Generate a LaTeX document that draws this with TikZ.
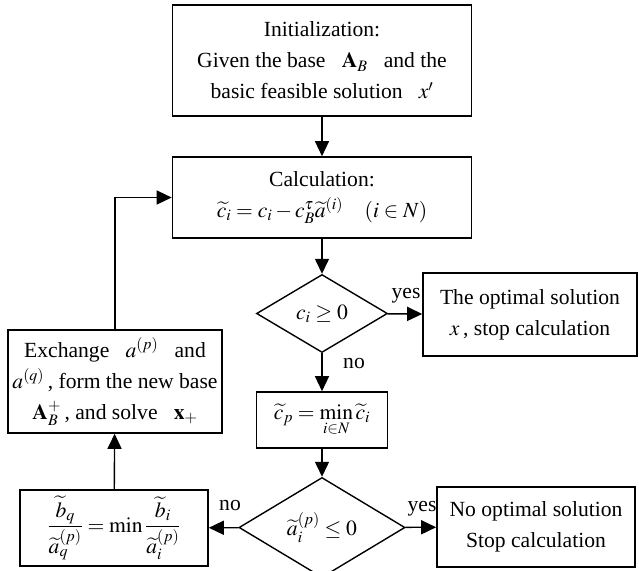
\documentclass[tikz,border=0pt]{standalone}
\usepackage{amsmath}
\usepackage{mathptmx}
\usepackage{fontspec}
\setmainfont{Liberation Serif}
\usetikzlibrary{shapes.geometric,arrows.meta}
\tikzset{
  box/.style={draw,line width=1.6pt,rectangle,inner sep=0pt,align=center,
    font=\fontsize{21.6}{31}\selectfont},
  dia/.style={draw,line width=1.4pt,diamond,inner sep=0pt,align=center,
    font=\fontsize{21.6}{31}\selectfont},
  arr/.style={line width=1.4pt,-{Triangle[length=15pt,width=14pt]}},
  lab/.style={inner sep=0pt,font=\fontsize{21.6}{25}\selectfont}
}
\begin{document}
\begin{tikzpicture}[x=1pt,y=-1pt]
\useasboundingbox (0,0) rectangle (639,570);
\node[box,minimum width=299pt,minimum height=111pt] (init) at (322,60.5)
  {Initialization:\\Given the base \ \ $\mathbf{A}_{B}$ \ \ and the\\basic feasible solution \ \ $x'$};
\node[box,minimum width=299pt,minimum height=81pt] (calc) at (322,197.5)
  {Calculation:\\$\widetilde{c}_i = c_i - c_B^{\tau}\widetilde{a}^{(i)} \quad (i\in N)$};
\node[dia,minimum width=131pt,minimum height=78pt] (d1) at (322,313.5) {$c_i \geq 0$};
\node[box,minimum width=131pt,minimum height=56pt] (cp) at (322,420)
  {$\widetilde{c}_p = \min\limits_{i\in N}\widetilde{c}_i$};
\node[box,minimum width=214pt,minimum height=83pt] (opt) at (530,314.5)
  {The optimal solution\\$x$\,, stop calculation};
\node[dia,minimum width=166pt,minimum height=81pt] (d2) at (322,527.5) {$\widetilde{a}_i^{(p)} \leq 0$};
\node[box,minimum width=198pt,minimum height=80pt] (noopt) at (536,527)
  {No optimal solution\\Stop calculation};
\node[box,minimum width=188pt,minimum height=76pt] (frac) at (114,528)
  {$\dfrac{\widetilde{b}_q}{\widetilde{a}_q^{(p)}} = \min\dfrac{\widetilde{b}_i}{\widetilde{a}_i^{(p)}}$};
\node[box,minimum width=214pt,minimum height=103pt] (exch) at (115,381.5)
  {Exchange \ \ $a^{(p)}$ \ \ and\\$a^{(q)}$\,, form the new base\\$\mathbf{A}_B^{+}$\,, and solve \ \ $\mathbf{x}_{+}$};
\coordinate (bend) at (115,197.5);
\node[lab] (yes1) at (406,296) {yes};
\node[lab] (no1) at (354,364) {no};
\node[lab] (yes2) at (422,509) {yes};
\node[lab] (no2) at (230,506) {no};
\draw[arr] (init) -- (calc);
\draw[arr] (calc) -- (d1);
\draw[arr] (d1) -- (cp);
\draw[arr] (d1) -- (opt);
\draw[arr] (cp) -- (d2);
\draw[arr] (d2) -- (noopt);
\draw[arr] (d2) -- (frac);
\draw[arr] (frac) -- (exch);
\draw[arr] (exch.north) -- (bend) -- (calc.west);
\end{tikzpicture}
\end{document}
